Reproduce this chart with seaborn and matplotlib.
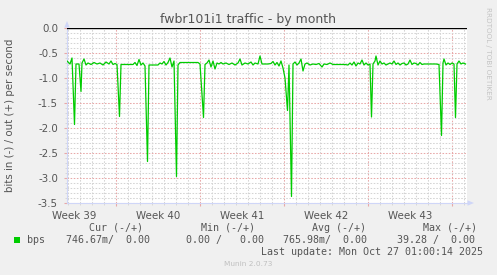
import matplotlib
matplotlib.use("Agg")
import matplotlib.pyplot as plt
from matplotlib.patches import Polygon, Rectangle
from matplotlib.ticker import FixedLocator, MultipleLocator
import numpy as np
import pandas as pd
import seaborn as sns

# ---------------- data ----------------
title = "fwbr101i1 traffic - by month"
ylabel = "bits in (-) / out (+) per second"
week_labels = ["Week 39", "Week 40", "Week 41", "Week 42", "Week 43"]
week_label_hours = [14, 182, 350, 518, 686]
week_start_hours = [98, 266, 434, 602, 770]
y_ticks = [0.0, -0.5, -1.0, -1.5, -2.0, -2.5, -3.0, -3.5]

hours = [0, 6, 10, 15, 18, 24, 28, 30, 34, 38, 42, 48, 54, 60, 66, 72, 78, 84, 88, 92,
         96, 100, 105, 108, 114, 120, 126, 132, 136, 140, 144, 148, 152, 156, 161, 164,
         170, 176, 182, 186, 190, 194, 198, 202, 206, 210, 214, 219, 222, 226, 232, 238,
         244, 250, 256, 262, 266, 273, 276, 280, 284, 288, 292, 296, 300, 304, 308, 312,
         318, 324, 330, 336, 342, 346, 350, 356, 362, 368, 372, 376, 382, 386, 390, 396,
         402, 408, 412, 416, 420, 424, 428, 432, 436, 441, 444, 449, 452, 456, 460, 464,
         468, 472, 476, 480, 486, 492, 498, 504, 510, 514, 520, 526, 532, 538, 544, 550,
         556, 562, 566, 570, 574, 578, 582, 586, 590, 594, 598, 602, 606, 609, 612, 616,
         618, 622, 626, 630, 634, 638, 642, 646, 650, 654, 658, 662, 666, 670, 674, 678,
         682, 686, 690, 694, 698, 702, 706, 710, 714, 718, 722, 726, 732, 738, 744, 749,
         752, 754, 758, 762, 766, 770, 774, 777, 780, 784, 788, 792, 797]
bps = [-0.66, -0.72, -0.60, -1.93, -0.72, -0.72, -1.27, -0.70, -0.62, -0.74, -0.70, -0.73,
       -0.69, -0.72, -0.70, -0.74, -0.68, -0.72, -0.66, -0.73,
       -0.71, -0.73, -1.77, -0.73, -0.73, -0.73, -0.73, -0.73, -0.69, -0.75, -0.63, -0.74,
       -0.70, -0.76, -2.67, -0.74,
       -0.74, -0.74, -0.74, -0.70, -0.72, -0.67, -0.74, -0.69, -0.60, -0.78, -0.66, -2.97,
       -0.74, -0.69, -0.69, -0.69,
       -0.69, -0.69, -0.69, -0.69, -0.72, -1.79, -0.73, -0.70, -0.64, -0.78, -0.66, -0.82,
       -0.70, -0.72, -0.69, -0.72,
       -0.70, -0.73, -0.70, -0.74, -0.70, -0.62, -0.74, -0.70, -0.72, -0.68, -0.74, -0.70,
       -0.72, -0.56, -0.72, -0.72,
       -0.72, -0.71, -0.67, -0.74, -0.69, -0.76, -0.66, -0.80, -1.00, -1.65, -0.74, -3.37,
       -0.72, -0.68, -0.74, -0.70,
       -0.62, -0.86, -0.72, -0.70, -0.74, -0.72, -0.73, -0.71, -0.78, -0.72, -0.73, -0.70,
       -0.73, -0.73, -0.73, -0.73,
       -0.73, -0.74, -0.70, -0.74, -0.68, -0.76, -0.70, -0.72, -0.64, -0.74, -0.70, -0.74,
       -0.72, -1.78, -0.72, -0.66,
       -0.56, -0.74, -0.66, -0.72, -0.70, -0.74, -0.72, -0.70, -0.72, -0.66, -0.73, -0.70,
       -0.74, -0.71, -0.70, -0.74,
       -0.72, -0.64, -0.73, -0.70, -0.71, -0.74, -0.69, -0.73, -0.72, -0.72, -0.72, -0.72,
       -0.72, -0.72, -0.73, -2.15,
       -0.70, -0.62, -0.74, -0.70, -0.73, -0.70, -0.72, -1.79, -0.72, -0.66, -0.72, -0.70,
       -0.72]

legend_cols = ["Cur (-/+)", "Min (-/+)", "Avg (-/+)", "Max (-/+)"]
legend_vals = ["746.67m/  0.00", "0.00 /   0.00", "765.98m/  0.00", "39.28 /  0.00"]
series_name = "bps"
last_update = "Last update: Mon Oct 27 01:00:14 2025"
credit = "Munin 2.0.73"
side_text = "RRDTOOL / TOBI OETIKER"

df = pd.DataFrame({"hour": hours, "bps": bps})

# ---------------- figure ----------------
W, H = 497, 275
BG = "#F0F0F0"
FONT = "#555555"
fig = plt.figure(figsize=(W / 100, H / 100), dpi=100, facecolor=BG)

def fx(px):
    return px / W

def fy(py):
    return 1 - py / H

ax = fig.add_axes([fx(67), fy(203), 400 / W, 175 / H])
ax.set_facecolor("white")

ax.set_xlim(0, 800)
ax.set_ylim(-3.5, 0.0)

# grids
ax.xaxis.set_major_locator(FixedLocator(week_start_hours))
ax.xaxis.set_minor_locator(FixedLocator([h for h in range(2, 800, 24)]))
ax.yaxis.set_major_locator(FixedLocator(y_ticks))
ax.yaxis.set_minor_locator(MultipleLocator(0.1))
ax.grid(which="minor", color="#d4d4d4", linestyle=(0, (1.5, 1.5)), linewidth=0.75)
ax.grid(which="major", color="#e8a8a8", linestyle=(0, (1.5, 1.5)), linewidth=0.75)
ax.set_axisbelow(True)

ax.set_xticklabels([])
ax.set_yticklabels([f"{v:.1f}" for v in y_ticks])
ax.tick_params(axis="x", which="major", length=2.5, color="#e8a8a8", width=0.8)
ax.tick_params(axis="x", which="minor", length=1.5, color="#d4d4d4", width=0.6)
ax.tick_params(axis="y", which="major", length=2.5, color="#e8a8a8", width=0.8,
               labelsize=7.4, labelcolor=FONT, pad=4)
ax.tick_params(axis="y", which="minor", length=1.5, color="#d4d4d4", width=0.6)

for s in ["top", "right"]:
    ax.spines[s].set_visible(False)
for s in ["left", "bottom"]:
    ax.spines[s].set_color("#CFD6F8")
    ax.spines[s].set_linewidth(0.8)

# zero line
ax.axhline(0.0, color="black", linewidth=1.0, zorder=3)

# series
sns.lineplot(data=df, x="hour", y="bps", ax=ax, color="#00CC00", linewidth=0.9,
             estimator=None, legend=False, zorder=4)
ax.set_xlabel("")
ax.set_ylabel(ylabel, fontsize=7.4, color=FONT)
ax.yaxis.set_label_coords((15.5 - 67) / 400, 0.5)

# week labels
for lab, h in zip(week_labels, week_label_hours):
    ax.text(h, -0.045, lab, transform=ax.get_xaxis_transform(), ha="center", va="top",
            fontsize=7.4, color=FONT)

# arrows
fig.patches.append(Polygon([[fx(64.3), fy(27.5)], [fx(69.7), fy(27.5)], [fx(67), fy(21)]],
                           closed=True, transform=fig.transFigure, facecolor="#CFD6F8",
                           edgecolor="none"))
fig.patches.append(Polygon([[fx(467.5), fy(200.3)], [fx(467.5), fy(205.7)], [fx(474), fy(203)]],
                           closed=True, transform=fig.transFigure, facecolor="#CFD6F8",
                           edgecolor="none"))

# title
fig.text(fx(248), fy(19.5), title, ha="center", va="center", fontsize=9, color=FONT)

# side text
fig.text(fx(488), fy(53), side_text, ha="center", va="center", rotation=270,
         fontsize=5.2, color="#c4c4c4")

# legend block (monospace)
mono = dict(family="DejaVu Sans Mono", fontsize=7.2, color=FONT, va="center", ha="left")
col_x = [89.3, 200.7, 311.7, 422.7]
val_x = [66.3, 186.0, 282.7, 397.3]
for t, x in zip(legend_cols, col_x):
    fig.text(fx(x), fy(228), t, **mono)
fig.patches.append(Rectangle((fx(14), fy(243)), 6 / W, 6 / H, transform=fig.transFigure,
                             facecolor="#00CC00", edgecolor="none"))
fig.text(fx(26.7), fy(240), series_name, **mono)
for t, x in zip(legend_vals, val_x):
    fig.text(fx(x), fy(240), t, **mono)
fig.text(fx(261), fy(252), last_update, **mono)

fig.text(fx(248), fy(264), credit, ha="center", va="center", fontsize=5.3, color="#c0c0c0")

fig.savefig("out.png", dpi=100, facecolor=BG)
